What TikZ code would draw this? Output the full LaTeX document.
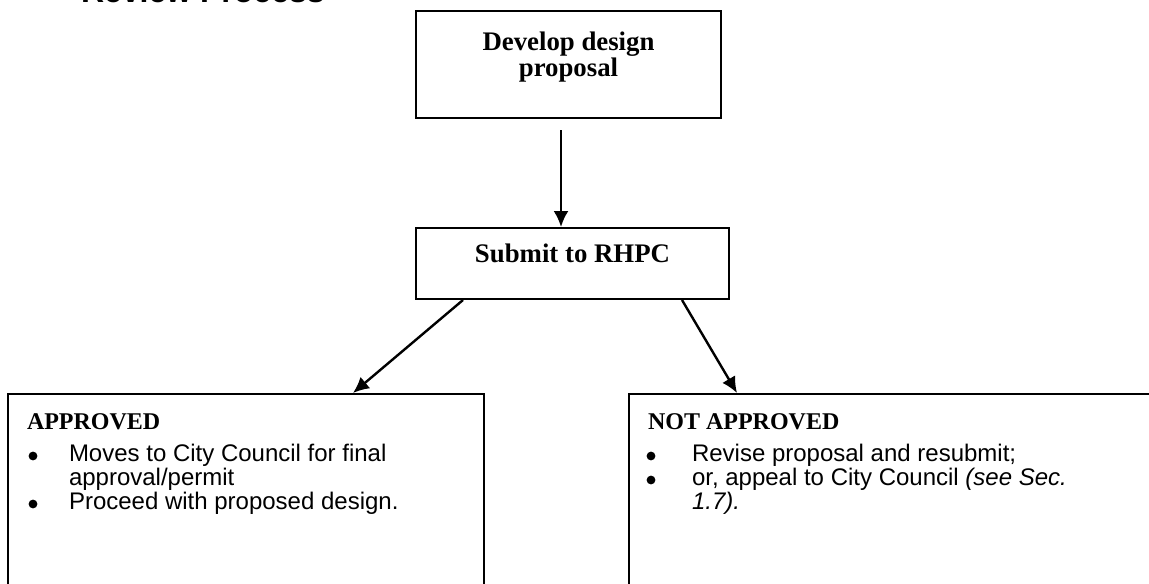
\documentclass[tikz,border=0pt]{standalone}
\usepackage{fontspec}
\setmainfont{Liberation Serif}
\setsansfont{Liberation Sans}
\usetikzlibrary{positioning,calc,arrows.meta}

\begin{document}
\begin{tikzpicture}
     [ x=0.5pt, y=-0.5pt, line width=1pt,
       box/.style={draw, rectangle, inner sep=0pt, anchor=north west},
       btitle/.style={font=\bfseries\fontsize{13.4}{12}\selectfont, align=center, inner sep=0pt},
       head/.style={font=\bfseries\fontsize{12}{14}\selectfont, anchor=base west, inner sep=0pt},
       item/.style={font=\sffamily\fontsize{12}{14}\selectfont, anchor=base west, inner sep=0pt},
       dot/.style={circle, fill, inner sep=0pt, minimum size=4.4pt},
       link/.style={->, line width=1.2pt},
       >={Latex[length=8pt,width=7.5pt]}]
   \useasboundingbox (0,0) rectangle (1149,583);
   % heading of the page, mostly cut off
   \node (TITLE) [anchor=base west, inner sep=0pt, font=\sffamily\bfseries\fontsize{16}{18}\selectfont] at (80,2.5) {Review Process};
   % boxes
   \node (DEV) [box, minimum width=152.5pt, minimum height=53.5pt] at (415,10) {};
   \node (SUB) [box, minimum width=156.5pt, minimum height=35.5pt] at (415,227) {};
   \node (APP) [box, minimum width=238pt, minimum height=100pt] at (7,393) {};
   \node (NAPP) [box, minimum width=280pt, minimum height=100pt] at (628,393) {};
   \node (DEVT) [btitle, anchor=north] at ($(DEV.north)+(0,20.5)$) {Develop design\\proposal};
   \node (SUBT) [btitle, anchor=base] at ($(SUB.north)+(0,35)$) {Submit to RHPC};
   % approved
   \node (APPH) [head] at (26,429) {APPROVED};
   \node (A1) [item] at (68,461) {Moves to City Council for final};
   \node (A1B) [item] at (68,485) {approval/permit};
   \node (A2) [item] at (68,509) {Proceed with proposed design.};
   \node (AD1) [dot] at (33,456) {};
   \node (AD2) [dot] at (33,504) {};
   % not approved
   \node (NAPPH) [head] at (647,429) {NOT APPROVED};
   \node (N1) [item] at (691,461) {Revise proposal and resubmit;};
   \node (N2) [item] at (691,485) {or, appeal to City Council \textit{(see Sec.}};
   \node (N2B) [item] at (691,509) {\textit{1.7).}};
   \node (ND1) [dot] at (651,456) {};
   \node (ND2) [dot] at (651,480) {};
   % arrows
   \draw[link] ($(DEV.south)+(-7.5,11)$) -- ($(SUB.north)+(-11.5,0)$);
   \draw[link] ($(SUB.south west)+(48,0)$) -- ($(APP.north west)+(346,0)$);
   \draw[link] ($(SUB.south east)+(-48,0)$) -- ($(NAPP.north west)+(109,0)$);
   \end{tikzpicture}
\end{document}
